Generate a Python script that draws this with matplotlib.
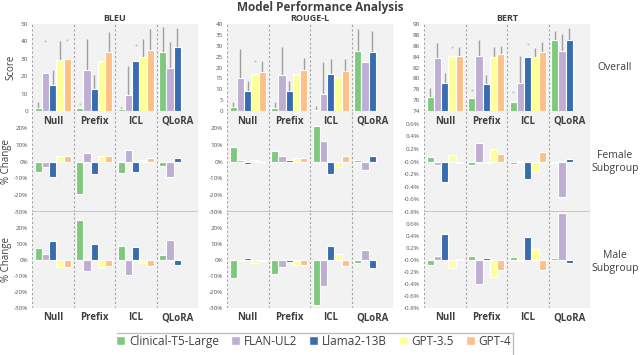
import numpy as np
import matplotlib
matplotlib.use('Agg')
import matplotlib.pyplot as plt
from matplotlib.patches import Patch
from matplotlib.lines import Line2D

plt.rcParams['font.family'] = ['Open Sans', 'DejaVu Sans']

groups = ['Null', 'Prefix', 'ICL', 'QLoRA']
models = ['Clinical-T5-Large', 'FLAN-UL2', 'Llama2-13B', 'GPT-3.5', 'GPT-4']
colors = ['#7fc97f', '#beaed4', '#386cb0', '#ffff99', '#fdc086']
metrics = ['BLEU', 'ROUGE-L', 'BERT']

# overall scores (QLoRA only has the three open models)
bleu_score = [[2, 22, 15, 29.5, 30], [1.5, 23.5, 12.5, 28.5, 34], [1, 9, 28.5, 31, 35], [34, 25, 37]]
rouge_score = [[1.8, 15, 9.3, 17, 17.8], [1.6, 16.5, 9.3, 17, 18.7], [0.6, 8, 17, 15.7, 18.5], [27.7, 22.3, 27.3]]
bert_score = [[76.5, 83.7, 79.1, 84.2, 84.2], [76.3, 84.2, 79.0, 84.0, 84.4], [75.6, 79.1, 84.0, 84.0, 84.8], [87.0, 85.0, 87.0]]

# top of error bars (nan = none), plus lone dots
bleu_err = [[5, np.nan, 23.5, 40.5, np.nan], [np.nan, 41.5, 20.5, np.nan, 45.5], [2.5, 26, np.nan, 41.5, 47], [48, 39.5, 47.5]]
bleu_dot = [[np.nan, 40, np.nan, np.nan, 41], [4, np.nan, np.nan, np.nan, np.nan], [np.nan, np.nan, 38, np.nan, np.nan], [np.nan, np.nan, np.nan]]
rouge_err = [[4, 28.5, 14, np.nan, 23], [4, 29.5, 14, np.nan, 24.3], [2.5, 22.7, 24, np.nan, 24], [37.5, np.nan, 37]]
rouge_dot = [[np.nan, np.nan, np.nan, 23, np.nan], [np.nan] * 5, [np.nan] * 5, [np.nan] * 3]
bert_err = [[78.2, 86.5, 81, np.nan, 85.8], [np.nan, 87, 80.6, 85.8, 86], [np.nan, 84.1, np.nan, 85.6, 86.7], [88.8, 88.2, 89.3]]
bert_dot = [[np.nan, np.nan, np.nan, 85.8, np.nan], [77.8, np.nan, np.nan, np.nan, np.nan], [77.5, np.nan, 86.3, np.nan, np.nan], [np.nan] * 3]

# % change vs overall
bleu_female = [[-6, -3, -9, 3.5, 3], [-19.5, 5, -7.5, 3.5, 3], [-7, 7, -6.5, 1, 2], [-2.5, -9.5, 2]]
rouge_female = [[8.5, 0.8, -1.2, 1, -0.5], [6.5, 3.3, 1, 2, 2], [21, 12, -7.5, -3, 3], [1, -5, 3]]
bert_female = [[0.07, -0.05, -0.33, 0.1, -0.02], [-0.05, 0.3, -0.02, 0.2, 0.12], [-0.04, 0.01, -0.28, -0.15, 0.15], [-0.02, -0.57, 0.04]]
bleu_male = [[7.5, 4, 12, -4.5, -4.5], [25, -7, 10, -5, -4], [9, -9.5, 8, -2, -3.5], [3, 12.5, -3]]
rouge_male = [[-11, -0.5, 1.5, -2, -0.8], [-9, -4.5, -1.5, -3, -3], [-28, -16.5, 9, 4, -4], [-2, 6.5, -5]]
bert_male = [[-0.09, 0.06, 0.43, -0.13, 0.01], [0.06, -0.4, 0.03, -0.29, -0.16], [0.05, -0.02, 0.38, 0.19, -0.17], [0.03, 0.78, -0.05]]

fig = plt.figure(figsize=(6.4, 3.55), dpi=100)
fig.text(0.5, 0.978, 'Model Performance Analysis', ha='center', va='center',
         fontsize=8.5, fontweight='bold', color='#404040')

col_x = [(32, 198), (227, 393), (424, 590)]
row_y = [(24, 111), (111, 212), (212, 308)]
W, H = 640, 355
bw = 0.175
tick_col = '#555555'


def draw_bars(ax, data, err=None, dot=None):
    for g, vals in enumerate(data):
        for j, v in enumerate(vals):
            x = g + (j - 2) * bw
            ax.bar(x, v, width=bw, color=colors[j], edgecolor='white', linewidth=0.8, zorder=3)
            if err is not None and not np.isnan(err[g][j]):
                ax.vlines(x, v, err[g][j], color='#a0a0a0', linewidth=1, zorder=2)
            if dot is not None and not np.isnan(dot[g][j]):
                ax.plot(x, dot[g][j], '.', color='#c0c0c0', markersize=1, zorder=2)


def style(ax):
    ax.set_facecolor('#f2f2f2')
    ax.set_xlim(-0.5, 3.5)
    for s in ax.spines.values():
        s.set_visible(False)
    ax.set_xticks([])
    for b in [-0.5, 0.5, 1.5, 2.5, 3.5]:
        ax.axvline(b, color='#a6a6a6', linestyle=(0, (2, 2)), linewidth=0.8, zorder=1)
    ax.tick_params(axis='y', length=0, labelsize=4.5, labelcolor=tick_col, pad=3)


score_data = [bleu_score, rouge_score, bert_score]
score_err = [bleu_err, rouge_err, bert_err]
score_dot = [bleu_dot, rouge_dot, bert_dot]
female_data = [bleu_female, rouge_female, bert_female]
male_data = [bleu_male, rouge_male, bert_male]

for c in range(3):
    x0, x1 = col_x[c]
    axes = []
    for r in range(3):
        y0, y1 = row_y[r]
        ax = fig.add_axes([x0 / W, 1 - y1 / H, (x1 - x0) / W, (y1 - y0) / H])
        style(ax)
        axes.append(ax)

    a0, a1, a2 = axes
    draw_bars(a0, score_data[c], score_err[c], score_dot[c])
    draw_bars(a1, female_data[c])
    draw_bars(a2, male_data[c])
    a0.set_title(metrics[c], fontsize=6.5, fontweight='bold', color='#404040', pad=2)

    if c == 0:
        a0.set_ylim(0, 50)
        a0.set_yticks(range(0, 51, 10))
    elif c == 1:
        a0.set_ylim(0, 40)
        a0.set_yticks(range(0, 41, 5))
    else:
        a0.set_ylim(74, 90)
        a0.set_yticks(range(74, 91, 2))

    for ax in (a1, a2):
        if c < 2:
            ax.set_ylim(-30, 30)
            ax.set_yticks(range(-30, 21, 10))
            ax.set_yticklabels([f'{t}%' for t in range(-30, 21, 10)])
        else:
            ax.set_ylim(-0.8, 0.8)
            t = np.arange(-0.8, 0.61, 0.2)
            ax.set_yticks(t)
            ax.set_yticklabels([f'{v:.1f}%' for v in t])
    a1.axhline(a1.get_ylim()[0], color='#bfbfbf', linewidth=1.2, zorder=4)

    for g, name in enumerate(groups):
        a1.text(g, 0.9, name, transform=a1.get_xaxis_transform(), ha='center', va='center',
                fontsize=7, fontweight='bold', color='#404040', zorder=5)
        a2.text(g, -0.1, name, transform=a2.get_xaxis_transform(), ha='center', va='center',
                fontsize=7, fontweight='bold', color='#404040')

    if c == 0:
        a0.set_ylabel('Score', fontsize=7, color='#404040', labelpad=3)
        a1.set_ylabel('% Change', fontsize=7, color='#404040', labelpad=1)
        a2.set_ylabel('% Change', fontsize=7, color='#404040', labelpad=1)

for txt, yc in [('Overall', 68), ('Female\nSubgroup', 162), ('Male\nSubgroup', 262)]:
    fig.text(615 / W, 1 - yc / H, txt, ha='center', va='center', fontsize=7.5, color='#404040')

handles = [Patch(facecolor=col, edgecolor='white') for col in colors]
fig.legend(handles, models, loc='center', bbox_to_anchor=(0.49, 0.038), ncol=5, frameon=False,
           fontsize=8.5, handlelength=0.8, handleheight=0.8, handletextpad=0.3, columnspacing=1.0,
           labelcolor='#404040')
fig.add_artist(Line2D([117 / W, 513 / W], [1 - 333 / H, 1 - 333 / H], color='#bfbfbf', linewidth=1))
fig.add_artist(Line2D([513 / W, 513 / W], [1 - 333 / H, 0], color='#bfbfbf', linewidth=1))

fig.savefig('out.png', dpi=100)
